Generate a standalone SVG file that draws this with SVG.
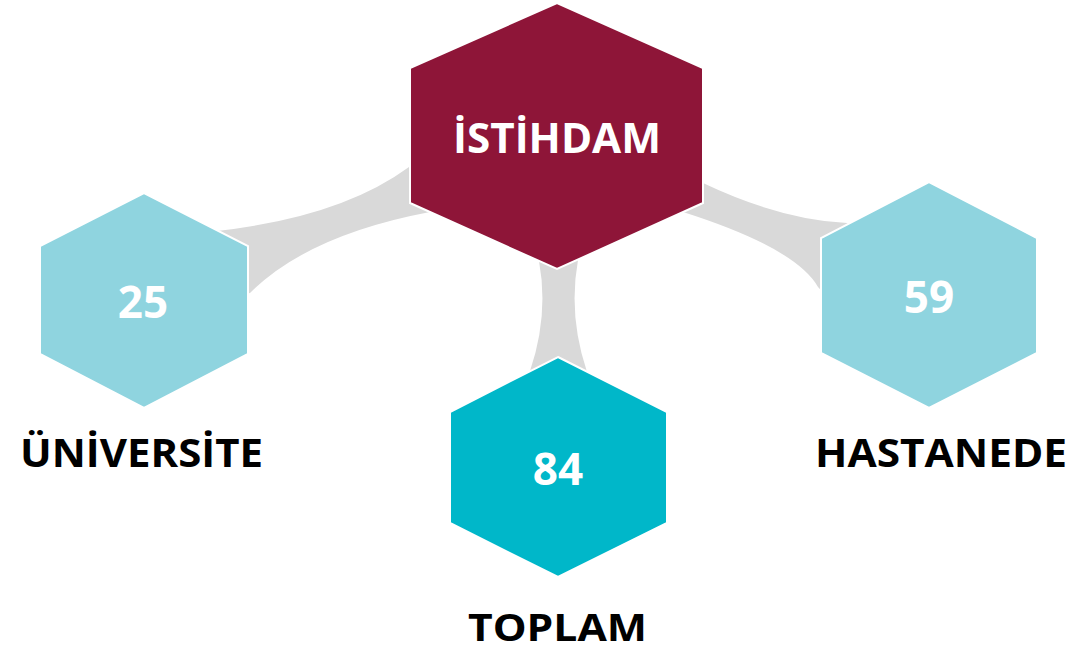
<svg xmlns="http://www.w3.org/2000/svg" width="1071" height="651" viewBox="0 0 1071 651">
  <style>
    .conn { fill: #D9D9D9; stroke: none; }
    .hex { stroke: #FFFFFF; stroke-width: 2; }
    .maroon { fill: #8E1538; }
    .light { fill: #8FD4DF; }
    .teal { fill: #00B7C9; }
    .num { font-family: "Open Sans", "Liberation Sans", sans-serif; font-weight: bold; fill: #FFFFFF; text-anchor: middle; }
    .lbl { font-family: "Open Sans", "Liberation Sans", sans-serif; font-weight: bold; fill: #000000; text-anchor: middle; }
  </style>
  <rect x="0" y="0" width="1071" height="651" fill="#FFFFFF"/>
  <g id="connectors">
    <path class="conn" d="M 200,240 L 217,231 Q 341,217 409,167 L 440,160 L 440,215 L 430,212 Q 308,235 250,293 L 220,300 Z"/>
    <path class="conn" d="M 680,180 L 703,183 Q 781,220 847,223 L 860,235 L 830,300 L 818,287 Q 796,248 683,212 L 680,200 Z"/>
    <path class="conn" d="M 539,240 L 539,261 Q 549,315 530,371 L 530,390 L 590,390 L 587,372 Q 568,315 578,260 L 578,240 Z"/>
  </g>
  <g id="node-istihdam">
    <polygon class="hex maroon" points="557,3 703,68 703,203 557,269 410,203 410,68"/>
    <text class="num" x="557" y="153" font-size="42" textLength="208" lengthAdjust="spacingAndGlyphs">İSTİHDAM</text>
  </g>
  <g id="node-universite">
    <polygon class="hex light" points="144,193 248,246 248,354 144,408 40,354 40,246"/>
    <text class="num" x="143" y="318" font-size="44">25</text>
  </g>
  <g id="node-hastanede">
    <polygon class="hex light" points="929,182 1037,238 1037,353 929,408 821,353 821,238"/>
    <text class="num" x="929" y="313" font-size="44">59</text>
  </g>
  <g id="node-toplam">
    <polygon class="hex teal" points="558,357 667,412 667,523 558,577 450,523 450,412"/>
    <text class="num" x="558" y="485" font-size="44">84</text>
  </g>
  <g id="labels">
    <text class="lbl" x="141.5" y="467" font-size="40" textLength="243" lengthAdjust="spacingAndGlyphs">ÜNİVERSİTE</text>
    <text class="lbl" x="941" y="467" font-size="40" textLength="252" lengthAdjust="spacingAndGlyphs">HASTANEDE</text>
    <text class="lbl" x="557.5" y="641" font-size="38" textLength="179" lengthAdjust="spacingAndGlyphs">TOPLAM</text>
  </g>
</svg>
